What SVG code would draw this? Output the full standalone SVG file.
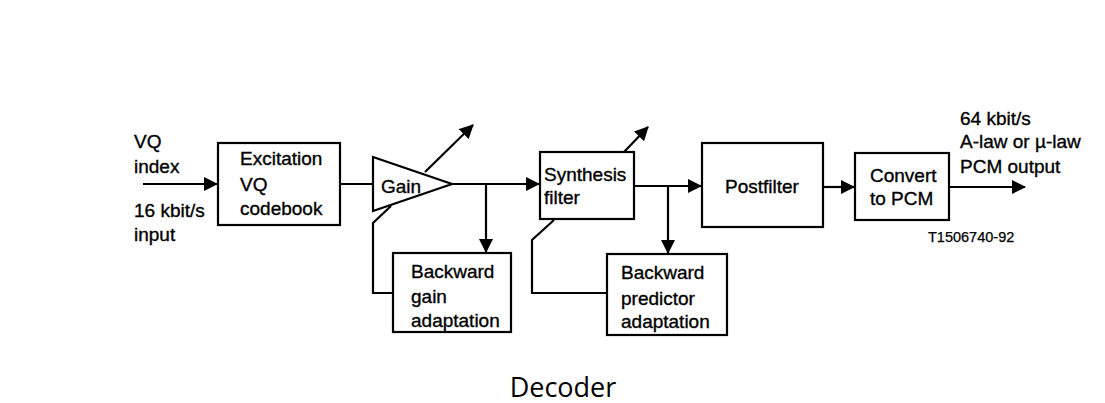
<svg xmlns="http://www.w3.org/2000/svg" width="1105" height="403" viewBox="0 0 1105 403">
<defs>
<style>
.box{fill:#fff;stroke:#000;stroke-width:2.2}
.ln{fill:none;stroke:#000;stroke-width:2.2}
.t{font-family:"Liberation Sans",Arial,sans-serif;font-size:19px;fill:#000;stroke:#000;stroke-width:0.35}
.s{font-family:"Liberation Sans",Arial,sans-serif;font-size:14.5px;fill:#000;stroke:#000;stroke-width:0.25}
.cap{font-family:"Open Sans","Noto Sans",sans-serif;font-size:27px;fill:#000}
</style>
<marker id="ah" viewBox="0 0 14 14" refX="13" refY="7" markerWidth="14" markerHeight="14" markerUnits="userSpaceOnUse" orient="auto">
<path d="M0,0 L14,7 L0,14 Z" fill="#000"/>
</marker>
</defs>
<rect width="1105" height="403" fill="#fff"/>
<g id="connectors">
<line class="ln" x1="143" y1="184" x2="217" y2="184" marker-end="url(#ah)"/>
<line class="ln" x1="340" y1="184" x2="373" y2="184"/>
<line class="ln" x1="452" y1="184" x2="539" y2="184" marker-end="url(#ah)"/>
<line class="ln" x1="425" y1="172" x2="473" y2="125" marker-end="url(#ah)"/>
<line class="ln" x1="624" y1="152" x2="648" y2="127" marker-end="url(#ah)"/>
<line class="ln" x1="486" y1="184" x2="486" y2="252" marker-end="url(#ah)"/>
<line class="ln" x1="634" y1="186" x2="701" y2="186" marker-end="url(#ah)"/>
<line class="ln" x1="668" y1="186" x2="668" y2="253" marker-end="url(#ah)"/>
<line class="ln" x1="823" y1="187" x2="854" y2="187" marker-end="url(#ah)"/>
<line class="ln" x1="949" y1="187" x2="1025" y2="187" marker-end="url(#ah)"/>
<polyline class="ln" points="393,293 373,293 373,223 391,206"/>
<polyline class="ln" points="607,293 532,293 532,240 554,220"/>
</g>
<g id="vq-input">
<text class="t" x="134" y="148">VQ</text>
<text class="t" x="134" y="173">index</text>
<text class="t" x="134" y="217">16 kbit/s</text>
<text class="t" x="134" y="241">input</text>
</g>
<g id="excitation">
<rect class="box" x="218" y="143" width="122" height="82"/>
<text class="t" x="240" y="165">Excitation</text>
<text class="t" x="240" y="191">VQ</text>
<text class="t" x="240" y="215">codebook</text>
</g>
<g id="gain">
<polygon class="box" points="373,157 452,184 373,211"/>
<text class="t" x="381" y="193">Gain</text>
</g>
<g id="synthesis">
<rect class="box" x="540" y="152" width="94" height="67"/>
<text class="t" x="544" y="181">Synthesis</text>
<text class="t" x="544" y="204">filter</text>
</g>
<g id="backward-gain">
<rect class="box" x="393" y="253" width="118" height="79"/>
<text class="t" x="411" y="278">Backward</text>
<text class="t" x="411" y="303">gain</text>
<text class="t" x="411" y="327">adaptation</text>
</g>
<g id="backward-predictor">
<rect class="box" x="607" y="254" width="120" height="81"/>
<text class="t" x="621" y="279">Backward</text>
<text class="t" x="621" y="305">predictor</text>
<text class="t" x="621" y="328">adaptation</text>
</g>
<g id="postfilter">
<rect class="box" x="702" y="143" width="121" height="84"/>
<text class="t" x="762" y="193" text-anchor="middle">Postfilter</text>
</g>
<g id="convert">
<rect class="box" x="855" y="153" width="94" height="67"/>
<text class="t" x="870" y="182">Convert</text>
<text class="t" x="870" y="205">to PCM</text>
</g>
<g id="output">
<text class="t" x="960" y="125">64 kbit/s</text>
<text class="t" x="960" y="148">A-law or µ-law</text>
<text class="t" x="960" y="173">PCM output</text>
<text class="s" x="928" y="242">T1506740-92</text>
</g>
<text class="cap" x="563" y="397" text-anchor="middle">Decoder</text>
</svg>
